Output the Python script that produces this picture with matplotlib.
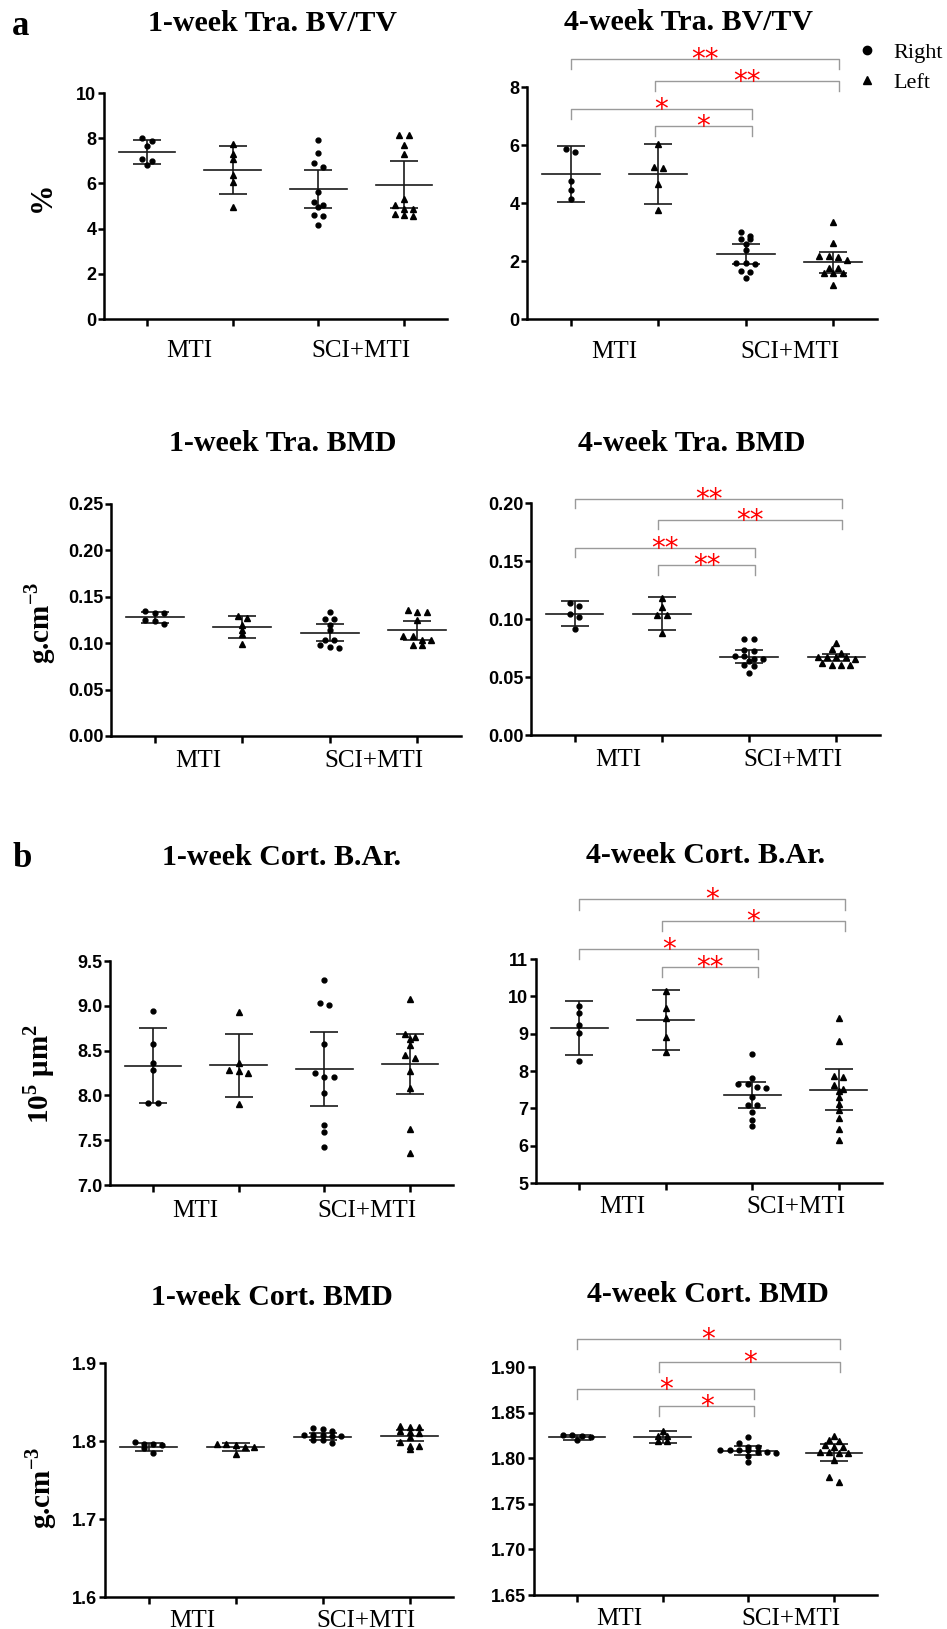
import matplotlib
matplotlib.use('Agg')
import matplotlib.pyplot as plt
import numpy as np
from matplotlib.lines import Line2D

plt.rcParams['font.family'] = 'Liberation Serif'
plt.rcParams['mathtext.fontset'] = 'custom'
plt.rcParams['mathtext.rm'] = 'Liberation Serif'
plt.rcParams['mathtext.bf'] = 'Liberation Serif:bold'

# data: groups are MTI-Right, MTI-Left, SCI+MTI-Right, SCI+MTI-Left
categories = ['MTI', 'SCI+MTI']
pairs = [(0, 3), (1, 3), (0, 2), (1, 2)]

bvtv_1w_pts = [[8.00, 7.88, 7.66, 7.10, 7.00, 6.81],
               [7.74, 7.32, 7.06, 6.35, 6.06, 4.97],
               [7.91, 7.35, 6.90, 6.74, 5.63, 5.19, 5.04, 4.94, 4.60, 4.57, 4.16],
               [8.13, 8.13, 7.72, 7.28, 5.32, 5.04, 4.87, 4.87, 4.65, 4.60, 4.56]]
bvtv_1w_mean = [7.40, 6.59, 5.74, 5.93]
bvtv_1w_sd = [0.53, 1.05, 0.85, 1.04]

bvtv_4w_pts = [[5.87, 5.76, 4.75, 4.46, 4.15],
               [6.03, 5.25, 5.21, 4.66, 3.77],
               [3.01, 2.87, 2.76, 2.76, 2.58, 2.38, 1.92, 1.90, 1.92, 1.67, 1.63, 1.42],
               [3.36, 2.61, 2.17, 2.15, 2.17, 2.03, 1.75, 1.75, 1.58, 1.58, 1.58, 1.17]]
bvtv_4w_mean = [5.00, 4.99, 2.23, 1.95]
bvtv_4w_sd = [0.96, 1.035, 0.34, 0.35]
bvtv_4w_sig = [8.97, 8.22, 7.24, 6.64]
bvtv_4w_stars = ['**', '**', '*', '*']

tbmd_1w_pts = [[0.1345, 0.133, 0.133, 0.125, 0.1234, 0.121],
               [0.1295, 0.127, 0.120, 0.1147, 0.1097, 0.0996],
               [0.1335, 0.1266, 0.1266, 0.1194, 0.114, 0.1032, 0.1032, 0.0978, 0.096, 0.0953],
               [0.1363, 0.134, 0.134, 0.1248, 0.1076, 0.1076, 0.1032, 0.1032, 0.098, 0.098]]
tbmd_1w_mean = [0.128, 0.1173, 0.1115, 0.114]
tbmd_1w_sd = [0.006, 0.0115, 0.009, 0.0104]

tbmd_4w_pts = [[0.1142, 0.1108, 0.1042, 0.1013, 0.0915],
               [0.118, 0.110, 0.1033, 0.1033, 0.0878],
               [0.0826, 0.0826, 0.0734, 0.0728, 0.0682, 0.0682, 0.0653, 0.0653, 0.0642,
                0.0604, 0.0596, 0.0532],
               [0.079, 0.074, 0.071, 0.0676, 0.067, 0.067, 0.067, 0.0655, 0.0625, 0.0604,
                0.0604, 0.0604]]
tbmd_4w_mean = [0.1047, 0.1047, 0.0676, 0.067]
tbmd_4w_sd = [0.0111, 0.0141, 0.00575, 0.003]
tbmd_4w_sig = [0.2035, 0.1856, 0.1612, 0.1462]
tbmd_4w_stars = ['**', '**', '**', '**']

bar_1w_pts = [[8.946, 8.571, 8.363, 8.289, 7.910, 7.910],
              [8.932, 8.363, 8.289, 8.270, 8.252, 7.899],
              [9.292, 9.032, 9.013, 8.571, 8.252, 8.207, 8.207, 8.022, 7.669, 7.587, 7.427],
              [9.080, 8.690, 8.653, 8.634, 8.568, 8.449, 8.412, 8.270, 8.085, 7.620, 7.353]]
bar_1w_mean = [8.330, 8.337, 8.296, 8.352]
bar_1w_sd = [0.42, 0.353, 0.416, 0.338]

bar_4w_pts = [[9.752, 9.547, 9.226, 9.012, 8.255],
              [10.153, 9.681, 9.431, 8.923, 8.504],
              [8.460, 7.800, 7.658, 7.658, 7.560, 7.542, 7.301, 7.096, 7.078, 6.891, 6.695, 6.517],
              [9.414, 8.816, 7.854, 7.827, 7.631, 7.515, 7.453, 7.292, 7.123, 6.945, 6.740,
               6.455, 6.160]]
bar_4w_mean = [9.146, 9.360, 7.346, 7.497]
bar_4w_sd = [0.7175, 0.802, 0.3475, 0.5435]
bar_4w_sig = [12.595, 12.016, 11.258, 10.795]
bar_4w_stars = ['*', '*', '*', '**']

cbmd_1w_pts = [[1.7990, 1.7962, 1.7962, 1.7949, 1.7906, 1.7850],
               [1.7957, 1.7957, 1.7949, 1.7927, 1.7927, 1.7833],
               [1.8163, 1.8154, 1.8132, 1.8077, 1.8077, 1.8077, 1.8064, 1.8064, 1.8013,
                1.8013, 1.7970],
               [1.8197, 1.8184, 1.8184, 1.8132, 1.8120, 1.8107, 1.8055, 1.7990, 1.7936,
                1.7936, 1.7893]]
cbmd_1w_mean = [1.7928, 1.7928, 1.8057, 1.807]
cbmd_1w_sd = [0.0052, 0.005, 0.0049, 0.0067]

cbmd_4w_pts = [[1.8255, 1.8250, 1.8243, 1.8236, 1.8196],
               [1.8302, 1.8243, 1.8243, 1.8192, 1.8185],
               [1.8235, 1.8166, 1.8125, 1.8120, 1.8090, 1.8090, 1.8090, 1.8086, 1.8070,
                1.8070, 1.8060, 1.8020, 1.7960],
               [1.8246, 1.8195, 1.8190, 1.8140, 1.8120, 1.8120, 1.8070, 1.8070, 1.8060,
                1.8060, 1.7980, 1.7790, 1.7743]]
cbmd_4w_mean = [1.8229, 1.8236, 1.8083, 1.8061]
cbmd_4w_sd = [0.0026, 0.0064, 0.0046, 0.0095]
cbmd_4w_sig = [1.9303, 1.9058, 1.8755, 1.8572]
cbmd_4w_stars = ['*', '*', '*', '*']

W, H = 947, 1629
fig = plt.figure(figsize=(W / 100, H / 100), dpi=100)


def px_axes(x0, y0, x1, y1):
    return fig.add_axes([x0 / W, 1 - y1 / H, (x1 - x0) / W, (y1 - y0) / H])


def swarm(ax, x0, vals, step_px=9.3, gap_px=4.4):
    vals = np.asarray(vals, float)
    xy = ax.transData.transform(np.column_stack([np.full(len(vals), x0), vals]))
    ypx = xy[:, 1]
    order = np.argsort(-ypx, kind='stable')
    rows = [[order[0]]]
    for k in order[1:]:
        if ypx[rows[-1][0]] - ypx[k] < gap_px:
            rows[-1].append(k)
        else:
            rows.append([k])
    xoff = np.zeros(len(vals))
    for r in rows:
        for j, k in enumerate(r):
            xoff[k] = (j - (len(r) - 1) / 2) * step_px
    back = ax.transData.inverted().transform(np.column_stack([xy[:, 0] + xoff, ypx]))
    return back[:, 0]


def panel(box, pts, means, sds, ylim, yticks, fmt, label_pad):
    ax = px_axes(*box)
    ax.set_xlim(-0.5, 3.5)
    ax.set_ylim(*ylim)
    for s in ['top', 'right']:
        ax.spines[s].set_visible(False)
    for s in ['left', 'bottom']:
        ax.spines[s].set_linewidth(1.8)
    ax.set_yticks(yticks)
    ax.set_yticklabels([fmt.format(t) for t in yticks], fontfamily='Liberation Sans',
                       fontweight='bold', fontsize=13)
    ax.set_xticks(range(4))
    ax.set_xticklabels([])
    ax.tick_params(axis='y', width=1.8, length=4, pad=1.5)
    ax.tick_params(axis='x', width=1.8, length=5)
    for i in range(4):
        xs = swarm(ax, i, pts[i])
        if i % 2 == 0:
            ax.plot(xs, pts[i], ls='', marker='o', ms=3.5, color='k', zorder=3, clip_on=False)
        else:
            ax.plot(xs, pts[i], ls='', marker='^', ms=3.9, color='k', zorder=3, clip_on=False)
        ax.plot([i - 0.33, i + 0.33], [means[i], means[i]], color='#1a1a1a', lw=1.2, zorder=2)
        ax.errorbar(i, means[i], yerr=sds[i], fmt='none', ecolor='#1a1a1a', elinewidth=1.2,
                    capsize=10, capthick=1.2, zorder=2)
    for k, c in enumerate(categories):
        ax.annotate(c, xy=(0.5 + 2 * k, 0), xycoords=('data', 'axes fraction'),
                    xytext=(0, -label_pad * 0.72), textcoords='offset points',
                    ha='center', va='top', fontsize=18)
    return ax


def brackets(ax, levels, stars, drop_frac=0.043):
    lo, hi = ax.get_ylim()
    drop = drop_frac * (hi - lo)
    for lvl, (a, b), st in zip(levels, pairs, stars):
        xa = a - (0.04 if a == 1 else 0.0)
        xb = b + 0.07
        ax.plot([xa, xa, xb, xb], [lvl - drop, lvl, lvl, lvl - drop], color='#9a9a9a',
                lw=1.0, clip_on=False)
        ax.annotate(st, xy=((xa + xb) / 2, lvl), xytext=(0, -6.5), textcoords='offset points',
                    ha='center', va='baseline', color='red', fontsize=20,
                    fontfamily='DejaVu Sans', annotation_clip=False)


def title(x, y, text):
    fig.text(x / W, 1 - y / H, text, ha='center', va='baseline', fontsize=21.5, fontweight='bold')


def ylabel(x, y, text, size=21):
    fig.text(x / W, 1 - y / H, text, ha='center', va='center', rotation=90,
             fontsize=size, fontweight='bold')


ax1 = panel((104, 93, 447, 319), bvtv_1w_pts, bvtv_1w_mean, bvtv_1w_sd,
            (0, 10), [0, 2, 4, 6, 8, 10], '{:g}', 21)
ax2 = panel((527, 87, 877, 319), bvtv_4w_pts, bvtv_4w_mean, bvtv_4w_sd,
            (0, 8), [0, 2, 4, 6, 8], '{:g}', 22)
brackets(ax2, bvtv_4w_sig, bvtv_4w_stars)

ax3 = panel((111, 504, 461, 736), tbmd_1w_pts, tbmd_1w_mean, tbmd_1w_sd,
            (0, 0.25), [0, 0.05, 0.10, 0.15, 0.20, 0.25], '{:.2f}', 14)
ax4 = panel((531, 503, 880, 735), tbmd_4w_pts, tbmd_4w_mean, tbmd_4w_sd,
            (0, 0.20), [0, 0.05, 0.10, 0.15, 0.20], '{:.2f}', 14)
brackets(ax4, tbmd_4w_sig, tbmd_4w_stars, 0.040)

ax5 = panel((110, 961, 453, 1185), bar_1w_pts, bar_1w_mean, bar_1w_sd,
            (7.0, 9.5), [7.0, 7.5, 8.0, 8.5, 9.0, 9.5], '{:.1f}', 15)
ax6 = panel((536, 959, 882, 1183), bar_4w_pts, bar_4w_mean, bar_4w_sd,
            (5, 11), [5, 6, 7, 8, 9, 10, 11], '{:g}', 13)
brackets(ax6, bar_4w_sig, bar_4w_stars, 0.045)

ax7 = panel((105, 1363, 453, 1597), cbmd_1w_pts, cbmd_1w_mean, cbmd_1w_sd,
            (1.6, 1.9), [1.6, 1.7, 1.8, 1.9], '{:.1f}', 13)
ax8 = panel((534, 1367, 877, 1595), cbmd_4w_pts, cbmd_4w_mean, cbmd_4w_sd,
            (1.65, 1.90), [1.65, 1.70, 1.75, 1.80, 1.85, 1.90], '{:.2f}', 13)
brackets(ax8, cbmd_4w_sig, cbmd_4w_stars, 0.044)

title(272, 31, '1-week Tra. BV/TV')
title(688, 30, '4-week Tra. BV/TV')
title(283, 451, '1-week Tra. BMD')
title(692, 451, '4-week Tra. BMD')
title(282, 865, '1-week Cort. B.Ar.')
title(706, 863, '4-week Cort. B.Ar.')
title(272, 1305, '1-week Cort. BMD')
title(708, 1302, '4-week Cort. BMD')

ylabel(42, 197, '%', 22)
ylabel(40, 623, 'g.cm$^{\\mathregular{-3}}$')
ylabel(39, 1074, '10$^{\\mathregular{5}}$ μm$^{\\mathregular{2}}$')
ylabel(41, 1488, 'g.cm$^{\\mathregular{-3}}$')

fig.text(21 / W, 1 - 35 / H, 'a', fontsize=25, fontweight='bold', ha='center', va='baseline')
fig.text(22 / W, 1 - 867 / H, 'b', fontsize=25, fontweight='bold', ha='center', va='baseline')

handles = [Line2D([], [], ls='', marker='o', ms=6, color='k'),
           Line2D([], [], ls='', marker='^', ms=6, color='k')]
ax2.legend(handles, ['Right', 'Left'], loc='upper left', bbox_to_anchor=(856 / W, 1 - 42 / H),
           bbox_transform=fig.transFigure, frameon=False, fontsize=16, handlelength=1.0,
           handletextpad=0.67, labelspacing=0.45, borderpad=0, borderaxespad=0)

fig.savefig('out.png', dpi=100)
